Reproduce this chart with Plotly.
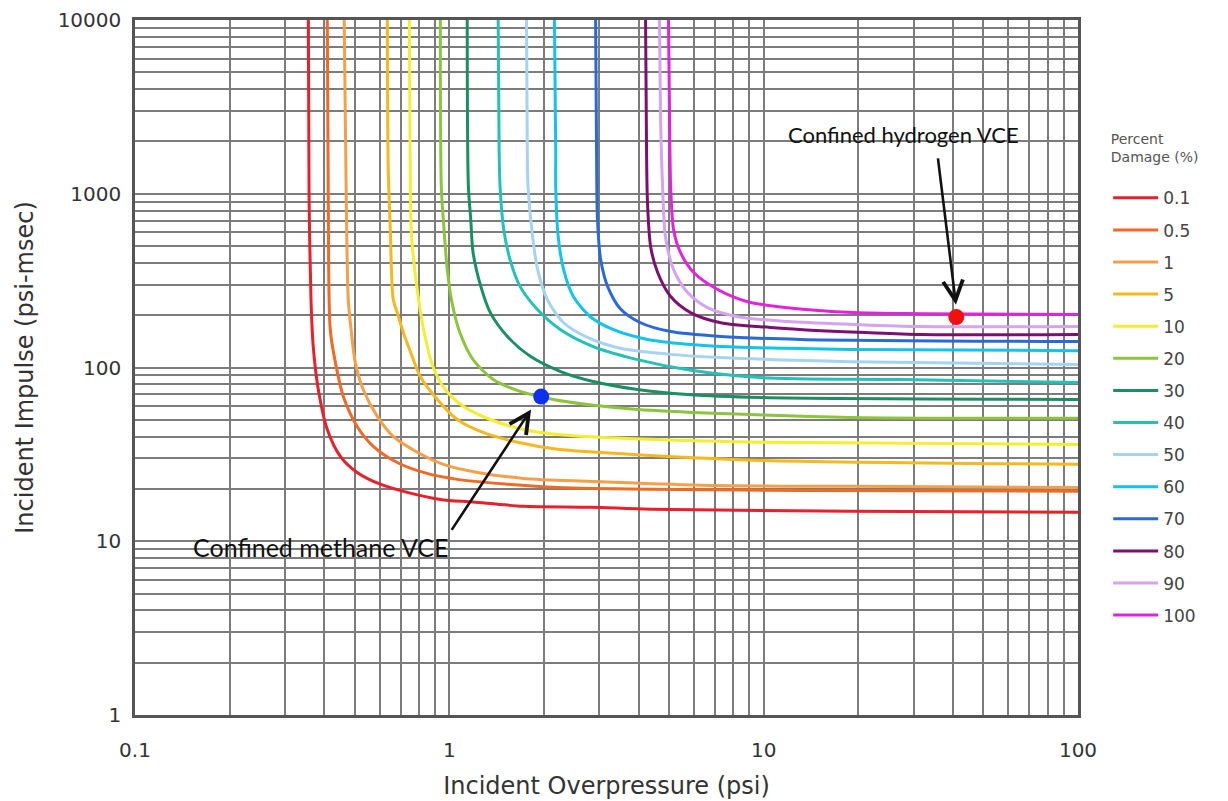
import numpy as np
import plotly.graph_objects as go

# ---------------- data ----------------
damage_labels = ["0.1", "0.5", "1", "5", "10", "20", "30", "40", "50", "60", "70", "80", "90", "100"]

# overpressure (psi) / impulse (psi-msec) points of each iso-damage curve
p_0_1 = [0.356, 0.358, 0.363, 0.369, 0.383, 0.409, 0.450, 0.509, 0.603, 0.735, 0.936, 1.19, 1.72, 2.81, 4.37, 18.9, 100]
i_0_1 = [10000, 924, 246, 132, 74.7, 44.0, 30.8, 24.9, 21.3, 19.1, 17.4, 16.8, 15.9, 15.7, 15.3, 14.9, 14.7]

p_0_5 = [0.409, 0.412, 0.418, 0.434, 0.460, 0.509, 0.573, 0.683, 0.827, 1.06, 1.53, 2.21, 4.37, 13.1, 100]
i_0_5 = [10000, 924, 165, 107, 68.1, 45.8, 35.2, 28.4, 24.9, 22.7, 21.3, 20.4, 19.9, 19.6, 19.4]

p_1 = [0.463, 0.470, 0.477, 0.487, 0.502, 0.532, 0.590, 0.663, 0.791, 0.957, 1.23, 1.72, 2.81, 6.30, 18.9, 100]
i_1 = [10000, 924, 246, 165, 107, 74.7, 52.3, 40.1, 32.5, 27.7, 24.9, 23.0, 22.1, 21.0, 20.7, 20.4]

p_5 = [0.635, 0.639, 0.649, 0.663, 0.683, 0.714, 0.751, 0.808, 0.916, 1.06, 1.28, 1.65, 2.21, 4.37, 10, 100]
i_5 = [10000, 1430, 621, 246, 207, 159, 124, 88.8, 65.5, 50.2, 42.3, 37.1, 33.8, 31.2, 29.2, 27.7]

p_10 = [0.746, 0.751, 0.757, 0.785, 0.832, 0.889, 0.971, 1.11, 1.35, 1.72, 2.21, 4.37, 10, 100]
i_10 = [10000, 1200, 597, 308, 159, 100, 74.7, 59.7, 50.2, 44.0, 41.2, 38.6, 37.1, 36.1]

p_20 = [0.936, 0.943, 0.957, 0.985, 1.02, 1.08, 1.19, 1.38, 1.68, 2.14, 2.75, 3.97, 7.30, 18.9, 100]
i_20 = [10000, 1097, 709, 366, 236, 159, 111, 85.3, 72.8, 65.5, 61.3, 57.4, 54.4, 51.6, 51.0]

p_30 = [1.14, 1.15, 1.17, 1.19, 1.26, 1.35, 1.53, 1.81, 2.26, 2.87, 3.97, 5.73, 9.78, 100]
i_30 = [10000, 1097, 709, 458, 292, 207, 151, 116, 94.8, 83.1, 74.7, 69.9, 67.2, 65.5]

p_40 = [1.43, 1.44, 1.45, 1.49, 1.56, 1.68, 1.91, 2.26, 2.87, 3.97, 5.73, 9.78, 27.3, 100]
i_40 = [10000, 1790, 1097, 621, 418, 292, 215, 165, 132, 111, 97.0, 87.5, 85.3, 82.0]

p_50 = [1.76, 1.77, 1.78, 1.84, 1.91, 2.05, 2.31, 2.75, 3.50, 5.06, 7.30, 18.9, 100]
i_50 = [10000, 1790, 1097, 566, 366, 246, 181, 149, 129, 119, 114, 108, 104]

p_60 = [2.16, 2.18, 2.18, 2.22, 2.31, 2.48, 2.81, 3.33, 4.27, 5.73, 7.30, 18.9, 100]
i_60 = [10000, 1790, 1097, 566, 366, 256, 196, 165, 145, 136, 132, 127, 125]

p_70 = [2.92, 2.94, 2.96, 3.03, 3.19, 3.50, 4.06, 5.06, 7.30, 13.1, 100]
i_70 = [10000, 1790, 709, 418, 292, 218, 181, 161, 151, 145, 141]

p_80 = [4.21, 4.24, 4.27, 4.37, 4.60, 5.06, 5.85, 7.30, 10.5, 15.2, 21.1, 31.6, 100]
i_80 = [10000, 1790, 888, 496, 352, 256, 207, 181, 170, 163, 159, 155, 155]

p_90 = [4.66, 4.70, 4.77, 4.87, 5.17, 5.73, 6.63, 8.27, 11.9, 19.3, 31.6, 100]
i_90 = [10000, 2663, 1097, 566, 366, 270, 221, 196, 184, 177, 172, 172]

p_100 = [4.98, 5.02, 5.06, 5.17, 5.44, 5.99, 7.14, 8.89, 11.9, 19.3, 31.6, 100]
i_100 = [10000, 2663, 1097, 621, 458, 352, 281, 239, 221, 207, 204, 202]

curves_p = [p_0_1, p_0_5, p_1, p_5, p_10, p_20, p_30, p_40, p_50, p_60, p_70, p_80, p_90, p_100]
curves_i = [i_0_1, i_0_5, i_1, i_5, i_10, i_20, i_30, i_40, i_50, i_60, i_70, i_80, i_90, i_100]

# marked explosion cases
case_names = ["Confined methane VCE", "Confined hydrogen VCE"]
case_p = [1.96, 41.0]
case_i = [68.0, 195.0]

x_ticks = [0.1, 1, 10, 100]
x_tick_text = ["0.1", "1", "10", "100"]
y_ticks = [1, 10, 100, 1000, 10000]
y_tick_text = ["1", "10", "100", "1000", "10000"]

# ---------------- styles ----------------
colors = ["#e8202a", "#f06a26", "#f5a048", "#f7b81e", "#f4ee2e", "#8cc43c", "#1a9062",
          "#22c2b8", "#a6d2f4", "#12c4ec", "#2a6ad8", "#7c1072", "#d6a2f2", "#e222dc"]
case_colors = ["#1030f0", "#f01010"]

fig = go.Figure()
for k, lab in enumerate(damage_labels):
    fig.add_trace(go.Scatter(
        x=curves_p[k], y=curves_i[k], mode="lines", name=lab,
        legendgroup=lab,
        line=dict(color=colors[k], width=3, shape="spline", smoothing=0.8),
        hoverinfo="skip"))

for k in range(2):
    fig.add_trace(go.Scatter(
        x=[case_p[k]], y=[case_i[k]], mode="markers", showlegend=False,
        marker=dict(color=case_colors[k], size=16), hoverinfo="skip"))

grid_col = "#7c7c7c"
tick_font = dict(family="DejaVu Sans, sans-serif", size=20, color="#333333")
title_font = dict(family="DejaVu Sans, sans-serif", size=24, color="#333333")
axis_common = dict(
    type="log", showline=True, linecolor="#555555", linewidth=2.5, mirror=True,
    showgrid=True, gridcolor=grid_col, gridwidth=1.8, ticks="", zeroline=False,
    tickfont=tick_font,
    minor=dict(showgrid=True, gridcolor=grid_col, gridwidth=1.6, dtick="D1", ticks=""),
)

fig.update_xaxes(**axis_common, range=[-1, 2], tickvals=x_ticks, ticktext=x_tick_text,
                 ticklabelstandoff=15, automargin="bottom",
                 title=dict(text="Incident Overpressure (psi)", standoff=17, font=title_font))
fig.update_yaxes(**axis_common, range=[0, 4], tickvals=y_ticks, ticktext=y_tick_text,
                 ticklabelstandoff=7, automargin="left",
                 title=dict(text="Incident Impulse (psi-msec)", standoff=18, font=title_font))

# text labels of the two cases
fig.add_annotation(x=np.log10(0.388), y=np.log10(9.3), xref="x", yref="y", text=case_names[0],
                   showarrow=False, font=dict(family="Lato, Noto Sans, sans-serif", size=25, color="#111111"))
fig.add_annotation(x=np.log10(27.9), y=np.log10(2200), xref="x", yref="y", text=case_names[1],
                   showarrow=False, font=dict(family="Lato, Noto Sans, sans-serif", size=22, color="#111111"))
# arrows pointing to the two cases
fig.add_annotation(x=np.log10(1.82), y=np.log10(57.4), ax=np.log10(1.01), ay=np.log10(11.4),
                   xref="x", yref="y", axref="x", ayref="y", text="", showarrow=True,
                   arrowhead=5, arrowsize=1.5, arrowwidth=2.6, arrowcolor="#111111")
fig.add_annotation(x=np.log10(40.9), y=np.log10(230), ax=np.log10(35.8), ay=np.log10(1632),
                   xref="x", yref="y", axref="x", ayref="y", text="", showarrow=True,
                   arrowhead=5, arrowsize=1.5, arrowwidth=2.6, arrowcolor="#111111")

fig.update_layout(
    width=1228, height=801,
    margin=dict(l=127, r=158, t=12, b=94),
    paper_bgcolor="white", plot_bgcolor="white",
    showlegend=True,
    legend=dict(
        x=1.032, y=0.848, xanchor="left", yanchor="top",
        title=dict(text="Percent<br>Damage (%)<br>&nbsp;", side="top center",
                   font=dict(family="DejaVu Sans, sans-serif", size=14, color="#555555")),
        font=dict(family="DejaVu Sans, sans-serif", size=17, color="#444444"),
        tracegroupgap=7, itemwidth=45, bgcolor="rgba(0,0,0,0)",
    ),
)

fig.write_html("out.html")
